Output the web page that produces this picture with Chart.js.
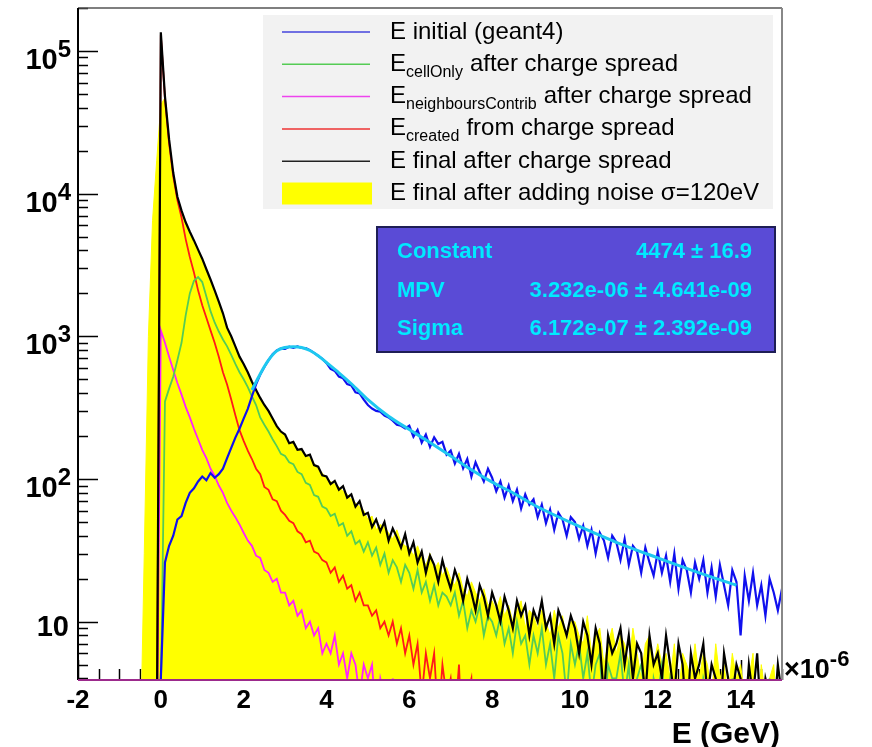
<!DOCTYPE html>
<html>
<head>
<meta charset="utf-8">
<script src="https://cdn.jsdelivr.net/npm/chart.js@4/dist/chart.umd.min.js"></script>
<style>
  body { margin: 0; background: #fff; }
  canvas { display: block; }
</style>
</head>
<body>
<canvas id="energyChart" width="872" height="747"></canvas>
<script>
// Histogramas de energía depositada (unidades de 1e-6 GeV), bins de 0.1 desde -0.5
const binStart = -0.5;
const binWidth = 0.1;

const eInitial = [
  1, 1, 1, 1, 1,
  4, 26, 34, 40, 52, 55, 68, 80, 86, 96,
  104, 98, 110, 102, 108, 118, 140, 165, 195, 225,
  265, 310, 380, 460, 540, 610, 680, 750, 795, 820,
  815, 845, 830, 850, 828, 826, 800, 765, 730, 695,
  648, 590, 572, 522, 508, 462, 452, 405, 398, 360,
  330, 312, 300, 296, 278, 270, 256, 240, 236, 226,
  236, 198, 221, 180, 205, 168, 196, 176, 182, 148,
  158, 128, 150, 119, 138, 104, 131, 112, 96, 118,
  102, 82, 96, 74, 90, 70, 84, 62, 78, 66,
  72, 54, 66, 49, 61, 44, 58, 52, 40, 54,
  50, 38, 47, 34, 44, 30, 42, 37, 28, 40,
  36, 27, 38, 25, 34, 31, 22, 33, 26, 21,
  31, 22, 29, 19, 30, 17, 27, 23, 16, 26,
  20, 27, 16, 24, 15, 25, 18, 13, 23, 19,
  8, 21, 14, 22, 13, 18, 11, 20, 16, 12,
  17
];

const eCellOnly = [
  1, 1, 1, 1, 1,
  3, 350, 430, 520, 680, 900, 1400, 2000, 2450, 2600,
  2400, 1900, 1500, 1250, 1080, 950, 850, 740, 640, 560,
  500, 440, 380, 330, 270, 240, 215, 190, 170, 150,
  145, 131, 127, 112, 108, 94, 91, 77, 75, 64,
  62, 55, 57, 47, 49, 40, 43, 35, 37, 31,
  36, 29, 33, 25, 30, 22, 27, 24, 19, 25,
  22, 17, 23, 16, 19, 14, 18, 13, 16, 15,
  13, 16, 11, 14, 9, 12, 10, 13, 8, 11,
  10, 8, 11, 7, 9, 6, 10, 7, 8, 5,
  8, 6, 9, 5, 7, 4, 8, 6, 3, 7,
  5, 7, 4, 6, 3, 5, 6, 2, 5, 4,
  4, 6, 3, 5, 2, 4, 5, 3, 1, 4,
  3, 5, 2, 4, 3, 1, 4, 2, 3, 4,
  2, 4, 3, 1, 4, 2, 3, 1, 4, 2,
  3, 1, 4, 2, 1, 3, 2, 4, 1, 2,
  1
];

const eNeighbours = [
  1, 1, 1, 1, 1,
  1100, 900, 720, 580, 470, 390, 320, 270, 225, 190,
  160, 140, 118, 105, 90, 80, 68, 60, 54, 48,
  42, 37, 34, 29, 28, 23, 22, 19, 20, 16,
  16, 13, 14, 11, 12, 9, 10, 8, 9, 6,
  7, 6, 8, 5, 6, 4, 6, 5, 3, 5,
  4, 5, 2, 4, 3, 1, 4, 2, 1, 3,
  2, 1, 1, 3, 1, 1, 1, 1, 1, 1,
  1, 1, 1, 1, 1, 1, 1, 1, 1, 1,
  1, 1, 1, 1, 1, 1, 1, 1, 1, 1,
  1, 1, 1, 1, 1, 1, 1, 1, 1, 1,
  1, 1, 1, 1, 1, 1, 1, 1, 1, 1,
  1, 1, 1, 1, 1, 1, 1, 1, 1, 1,
  1, 1, 1, 1, 1, 1, 1, 1, 1, 1,
  1, 1, 1, 1, 1, 1, 1, 1, 1, 1,
  1, 1, 1, 1, 1, 1, 1, 1, 1, 1,
  1
];

const eCreated = [
  1, 1, 1, 1, 1,
  130000, 46000, 22500, 13200, 9000, 6800, 4800, 3600, 2800, 2100,
  1650, 1350, 1100, 900, 720, 560, 460, 360, 280, 220,
  185, 158, 138, 118, 108, 88, 84, 72, 70, 60,
  56, 51, 49, 43, 41, 36, 37, 31, 30, 27,
  26, 22, 24, 19, 21, 17, 18, 14, 16, 13,
  13, 11, 12, 9, 10, 8, 10, 7, 9, 6,
  8, 5, 7, 3, 6, 4, 6, 2, 5, 3,
  4, 2, 5, 1, 3, 4, 1, 2, 3, 1,
  1, 2, 1, 1, 3, 1, 1, 2, 1, 1,
  1, 1, 1, 1, 1, 1, 1, 1, 1, 1,
  1, 1, 1, 1, 1, 1, 1, 1, 1, 1,
  1, 1, 1, 1, 1, 1, 1, 1, 1, 1,
  1, 1, 1, 1, 1, 1, 1, 1, 1, 1,
  1, 1, 1, 1, 1, 1, 1, 1, 1, 1,
  1, 1, 1, 1, 1, 1, 1, 1, 1, 1,
  1
];

const eFinal = [
  1, 1, 1, 1, 1,
  135000, 48000, 24000, 14000, 9500, 7600, 6300, 5400, 4700, 4050,
  3500, 2950, 2500, 2100, 1750, 1450, 1150, 1000, 850, 720,
  640, 560, 480, 420, 370, 330, 300, 265, 235, 215,
  205, 178, 182, 160, 162, 145, 148, 125, 122, 106,
  104, 92, 97, 84, 89, 74, 78, 64, 70, 56,
  58, 46, 52, 43, 50, 37, 45, 39, 33, 41,
  30, 36, 26, 31, 22, 29, 25, 19, 27, 21,
  17, 23, 19, 14, 20, 16, 12, 18, 15, 11,
  16, 13, 10, 15, 12, 9, 14, 11, 13, 8,
  12, 10, 14, 9, 11, 7, 12, 10, 8, 11,
  9, 6, 10, 8, 5, 9, 7, 3, 8, 6,
  7, 9, 5, 8, 4, 7, 6, 3, 8, 5,
  6, 4, 8, 5, 3, 7, 5, 2, 6, 4,
  5, 7, 3, 5, 4, 2, 6, 4, 3, 5,
  4, 2, 5, 3, 6, 2, 4, 3, 2, 5,
  3
];

const eNoise = [
  1, 30, 1000, 6500, 17000,
  42000, 47000, 23500, 13800, 9300, 7500, 6200, 5300, 4650, 4000,
  3450, 2900, 2450, 2080, 1730, 1430, 1140, 990, 840, 715,
  635, 555, 475, 415, 365, 328, 298, 262, 233, 213,
  200, 180, 176, 162, 156, 148, 140, 128, 118, 110,
  100, 96, 92, 88, 82, 78, 72, 68, 64, 60,
  52, 55, 44, 48, 46, 42, 38, 44, 36, 34,
  33, 29, 34, 28, 25, 30, 23, 26, 21, 24,
  20, 18, 22, 17, 15, 19, 16, 14, 17, 13,
  14, 12, 15, 11, 13, 10, 12, 14, 9, 12,
  11, 9, 12, 10, 8, 12, 9, 11, 7, 10,
  10, 8, 7, 11, 6, 8, 9, 5, 7, 9,
  6, 8, 7, 5, 9, 6, 4, 7, 8, 5,
  7, 5, 6, 4, 7, 3, 6, 5, 4, 7,
  4, 6, 5, 3, 7, 4, 5, 3, 6, 4,
  5, 3, 4, 6, 2, 5, 3, 4, 5, 2,
  4
];

// Ajuste Landau sobre E initial
const fitX = [2.2, 2.4, 2.6, 2.8, 3.0, 3.2, 3.4, 3.6, 3.8, 4.0, 4.3, 4.6, 5.0, 5.5, 6.0, 6.5, 7.0, 7.5, 8.0, 8.5, 9.0, 10.0, 11.0, 12.0, 13.0, 13.9];
const fitY = [420, 545, 680, 790, 835, 845, 835, 795, 730, 655, 555, 465, 360, 275, 222, 180, 145, 116, 95, 80, 66, 48, 36, 28, 22, 18];

const fitParams = [
  ['Constant', '4474 \u00b1 16.9'],
  ['MPV', '3.232e-06 \u00b1 4.641e-09'],
  ['Sigma', '6.172e-07 \u00b1 2.392e-09']
];

const xTickValues = [-2, 0, 2, 4, 6, 8, 10, 12, 14];
const yDecades = [1, 2, 3, 4, 5];

const binCentres = eInitial.map((_, i) => +(binStart + i * binWidth).toFixed(2));
const toPoints = ys => ys.map((y, i) => ({ x: binCentres[i], y }));

const FONT = '"Liberation Sans", Arial, Helvetica, sans-serif';

const legendRows = [
  { color: '#4444dd', main: 'E', sub: '', rest: ' initial (geant4)' },
  { color: '#55cc55', main: 'E', sub: 'cellOnly', rest: 'after charge spread' },
  { color: '#ee44ee', main: 'E', sub: 'neighboursContrib', rest: 'after charge spread' },
  { color: '#ee3333', main: 'E', sub: 'created', rest: 'from charge spread' },
  { color: '#222222', main: 'E', sub: '', rest: ' final after charge spread' },
  { color: '#ffff00', main: 'E', sub: '', rest: ' final after adding noise \u03c3=120eV', box: true }
];

function powText(ctx, base, exp, xRight, baseline, size, supSize, rise) {
  ctx.font = `bold ${supSize}px ${FONT}`;
  const wSup = ctx.measureText(exp).width;
  ctx.font = `bold ${size}px ${FONT}`;
  const wBase = ctx.measureText(base).width;
  ctx.textAlign = 'left';
  ctx.fillText(base, xRight - wSup - wBase, baseline);
  ctx.font = `bold ${supSize}px ${FONT}`;
  ctx.fillText(exp, xRight - wSup, baseline - rise);
}

// Marco, ticks, etiquetas, leyenda y caja del ajuste
const rootFrame = {
  id: 'rootFrame',
  beforeDatasetsDraw(chart) {
    const { ctx, chartArea: a, scales: { x, y } } = chart;
    ctx.save();
    ctx.strokeStyle = '#000';
    ctx.lineWidth = 1.5;
    ctx.beginPath();
    for (const d of yDecades.concat([0])) {
      for (let m = 1; m <= 9; m++) {
        const v = m * Math.pow(10, d);
        if (v < y.min || v > y.max) continue;
        const py = Math.round(y.getPixelForValue(v)) + 0.5;
        ctx.moveTo(a.left, py);
        ctx.lineTo(a.left + (m === 1 ? 20 : 10), py);
      }
    }
    for (let v = -2; v <= 15; v += 0.5) {
      const px = Math.round(x.getPixelForValue(v)) + 0.5;
      ctx.moveTo(px, a.bottom);
      ctx.lineTo(px, a.bottom - (v % 2 === 0 ? 20 : 11));
    }
    ctx.stroke();
    ctx.restore();
  },
  afterDatasetsDraw(chart) {
    const { ctx, chartArea: a, scales: { x, y } } = chart;
    ctx.save();

    // marco
    ctx.lineWidth = 1.5;
    ctx.strokeStyle = '#555';
    ctx.beginPath();
    ctx.moveTo(a.left, a.top);
    ctx.lineTo(a.right, a.top);
    ctx.stroke();
    ctx.strokeStyle = '#888';
    ctx.lineWidth = 2;
    ctx.beginPath();
    ctx.moveTo(a.right, a.top);
    ctx.lineTo(a.right, a.bottom);
    ctx.stroke();
    ctx.strokeStyle = '#000';
    ctx.beginPath();
    ctx.moveTo(a.left, a.top);
    ctx.lineTo(a.left, a.bottom);
    ctx.stroke();
    ctx.strokeStyle = '#9c2a8c';
    ctx.beginPath();
    ctx.moveTo(a.left, a.bottom);
    ctx.lineTo(a.right, a.bottom);
    ctx.stroke();

    // etiquetas del eje Y
    ctx.fillStyle = '#000';
    ctx.textBaseline = 'alphabetic';
    for (const d of yDecades) {
      const py = y.getPixelForValue(Math.pow(10, d));
      if (d === 1) {
        ctx.font = `bold 29px ${FONT}`;
        ctx.textAlign = 'right';
        ctx.fillText('10', 69, py + 14);
      } else {
        powText(ctx, '10', String(d), 71, py + 18, 29, 24, 12);
      }
    }

    // etiquetas del eje X
    ctx.font = `bold 26px ${FONT}`;
    ctx.textAlign = 'center';
    for (const v of xTickValues) {
      ctx.fillText(String(v), x.getPixelForValue(v), 708);
    }
    ctx.textAlign = 'left';
    ctx.font = `bold 27px ${FONT}`;
    ctx.fillText('\u00d710', a.right + 2, 678);
    const w = ctx.measureText('\u00d710').width;
    ctx.font = `bold 22px ${FONT}`;
    ctx.fillText('-6', a.right + 2 + w, 666);
    ctx.font = `bold 30px ${FONT}`;
    ctx.textAlign = 'right';
    ctx.fillText('E (GeV)', 780, 743);

    // leyenda
    ctx.fillStyle = '#f2f2f2';
    ctx.fillRect(263, 15, 510, 194);
    legendRows.forEach((row, i) => {
      const ly = 32 + i * 32.3;
      if (row.box) {
        ctx.fillStyle = row.color;
        ctx.fillRect(282, ly - 11, 90, 22);
      } else {
        ctx.strokeStyle = row.color;
        ctx.lineWidth = 1.5;
        ctx.beginPath();
        ctx.moveTo(282, ly);
        ctx.lineTo(370, ly);
        ctx.stroke();
      }
      ctx.fillStyle = '#000';
      ctx.textAlign = 'left';
      const base = ly + 6.5;
      let tx = 390;
      ctx.font = `24px ${FONT}`;
      ctx.fillText(row.main, tx, base);
      tx += ctx.measureText(row.main).width;
      if (row.sub) {
        ctx.font = `16px ${FONT}`;
        ctx.fillText(row.sub, tx, base + 6);
        tx += ctx.measureText(row.sub).width + 7;
      }
      ctx.font = `24px ${FONT}`;
      ctx.fillText(row.rest, tx, base);
    });

    // caja del ajuste
    ctx.fillStyle = '#5a4bd6';
    ctx.fillRect(377, 227, 398, 125);
    ctx.strokeStyle = '#1e1e55';
    ctx.lineWidth = 2;
    ctx.strokeRect(377, 227, 398, 125);
    ctx.fillStyle = '#00eaff';
    ctx.font = `bold 22px ${FONT}`;
    fitParams.forEach(([name, val], i) => {
      const by = 258 + i * 38.5;
      ctx.textAlign = 'left';
      ctx.fillText(name, 397, by);
      ctx.textAlign = 'right';
      ctx.fillText(val, 752, by);
    });

    ctx.restore();
  }
};

const histo = (label, ys, color, order, width) => ({
  label,
  data: toPoints(ys),
  borderColor: color,
  borderWidth: width,
  pointRadius: 0,
  fill: false,
  tension: 0,
  order
});

new Chart(document.getElementById('energyChart'), {
  type: 'line',
  data: {
    datasets: [
      {
        label: 'Landau fit',
        data: fitX.map((v, i) => ({ x: v, y: fitY[i] })),
        borderColor: '#1ec8f0',
        borderWidth: 3,
        pointRadius: 0,
        cubicInterpolationMode: 'monotone',
        fill: false,
        order: 0
      },
      histo('E initial (geant4)', eInitial, '#1010ee', 1, 2.2),
      histo('E final after charge spread', eFinal, '#000000', 2, 2.2),
      histo('E cellOnly after charge spread', eCellOnly, '#55cc55', 3, 1.8),
      histo('E created from charge spread', eCreated, '#ff1a1a', 4, 1.8),
      histo('E neighboursContrib after charge spread', eNeighbours, '#ff22ff', 5, 1.8),
      {
        label: 'E final after adding noise',
        data: toPoints(eNoise),
        borderColor: '#ffff00',
        backgroundColor: '#ffff00',
        borderWidth: 1,
        pointRadius: 0,
        fill: 'start',
        tension: 0,
        order: 6
      }
    ]
  },
  options: {
    responsive: false,
    animation: false,
    layout: { padding: { left: 78, top: 8, right: 90, bottom: 67 } },
    scales: {
      x: { type: 'linear', min: -2, max: 15, display: false },
      y: { type: 'logarithmic', min: 3.9, max: 200000, display: false }
    },
    plugins: {
      legend: { display: false },
      tooltip: { enabled: false }
    }
  },
  plugins: [rootFrame]
});
</script>
</body>
</html>
